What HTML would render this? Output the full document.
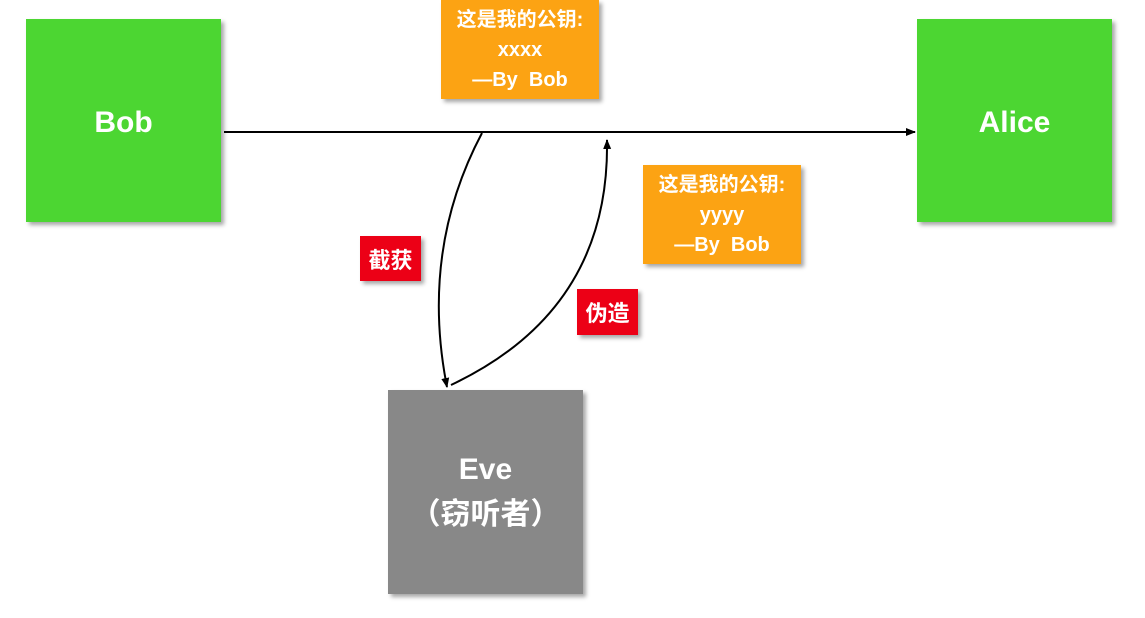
<!DOCTYPE html>
<html><head><meta charset="utf-8"><style>
body{margin:0;width:1145px;height:618px;background:#fff;position:relative;overflow:hidden;font-family:"Liberation Sans","Noto Sans CJK SC",sans-serif;font-weight:bold;}
.b{position:absolute;display:flex;align-items:center;justify-content:center;text-align:center;color:#fff;box-shadow:3px 3px 4px rgba(0,0,0,0.35);}
.g{background:#4cd632;font-size:30px;padding-top:4px;box-sizing:border-box;}
.o{background:#fca313;font-size:20px;line-height:30px;}
.r{background:#ec0016;font-size:22px;}
</style></head><body>
<div class="b g" style="left:26px;top:19px;width:195px;height:203px;">Bob</div>
<div class="b g" style="left:917px;top:19px;width:195px;height:203px;">Alice</div>
<div class="b" style="left:388px;top:390px;width:195px;height:204px;background:#888;font-size:30px;line-height:45px;">Eve<br>（窃听者）</div>
<div class="b o" style="left:441px;top:0;width:158px;height:99px;">这是我的公钥:<br>xxxx<br>—By&nbsp; Bob</div>
<div class="b o" style="left:643px;top:165px;width:158px;height:99px;">这是我的公钥:<br>yyyy<br>—By&nbsp; Bob</div>
<div class="b r" style="left:360px;top:236px;width:61px;height:45px;">截获</div>
<div class="b r" style="left:577px;top:289px;width:61px;height:46px;">伪造</div>
<svg width="1145" height="618" style="position:absolute;left:0;top:0">
<defs><marker id="a" markerWidth="10" markerHeight="10" refX="9" refY="5" orient="auto" markerUnits="userSpaceOnUse"><path d="M0,1 L10,5 L0,9 z" fill="#000"/></marker></defs>
<line x1="224" y1="132" x2="915" y2="132" stroke="#000" stroke-width="2" marker-end="url(#a)"/>
<path d="M482,133 Q420,250 447,387" fill="none" stroke="#000" stroke-width="2" marker-end="url(#a)"/>
<path d="M451,385 Q610,310 607,140" fill="none" stroke="#000" stroke-width="2" marker-end="url(#a)"/>
</svg>
</body></html>
